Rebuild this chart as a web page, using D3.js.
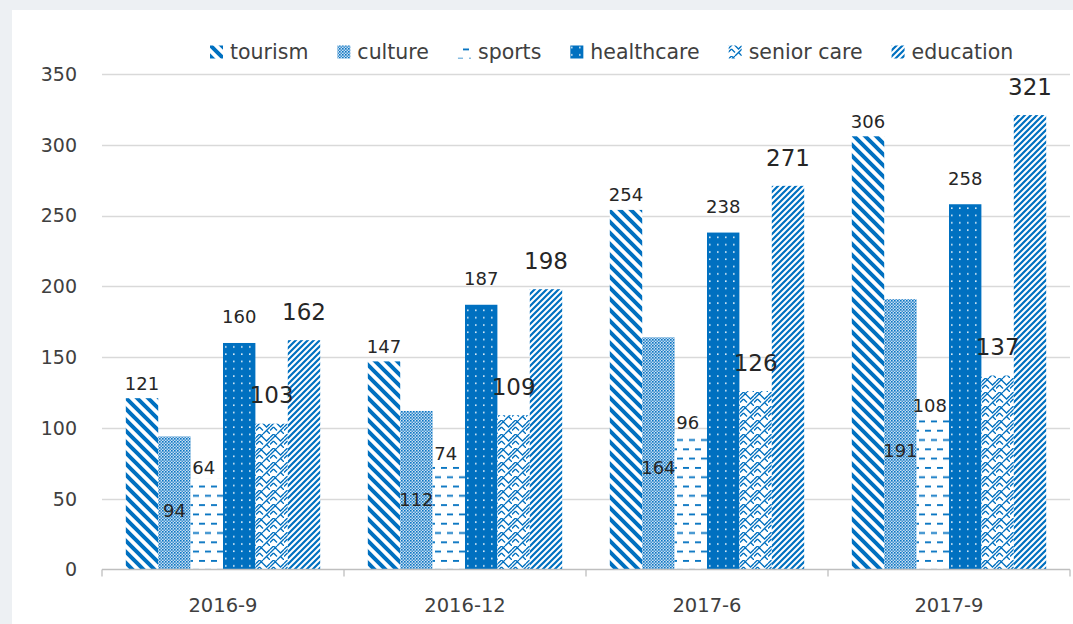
<!DOCTYPE html>
<html>
<head>
<meta charset="utf-8">
<script src="https://cdn.jsdelivr.net/npm/d3@7"></script>
<style>
  html, body { margin: 0; padding: 0; background: #edf0f3; }
  svg { display: block; }
  text { font-family: "DejaVu Sans", sans-serif; }
</style>
</head>
<body>
<svg id="chart" width="1073" height="624"></svg>
<script>
// ---- data ----
const categories = ["2016-9", "2016-12", "2017-6", "2017-9"];
const seriesNames = ["tourism", "culture", "sports", "healthcare", "senior care", "education"];
const tourism    = [121, 147, 254, 306];
const culture    = [94, 112, 164, 191];
const sports     = [64, 74, 96, 108];
const healthcare = [160, 187, 238, 258];
const seniorCare = [103, 109, 126, 137];
const education  = [162, 198, 271, 321];
const yTicks = [0, 50, 100, 150, 200, 250, 300, 350];

const seriesValues = [tourism, culture, sports, healthcare, seniorCare, education];

// ---- styling (not data) ----
const BLUE = "#0070c0";
const labelStyle = [
  { place: "above", gap: 15, size: 18 },
  { place: "inside", frac: 0.44, size: 18 },
  { place: "above", gap: 11, size: 18, dx: -3 },
  { place: "above", gap: 26, size: 18 },
  { place: "above", gap: 28.5, size: 23 },
  { place: "above", gap: 28.5, size: 23 }
];

const svg = d3.select("#chart");
const W = 1073, H = 624;

// white panel
svg.append("rect").attr("x", 12).attr("y", 10).attr("width", W - 12).attr("height", H - 10).attr("fill", "#ffffff");

// ---- patterns ----
const defs = svg.append("defs");
const patIds = ["p-tourism", "p-culture", "p-sports", "p-health", "p-senior", "p-edu"];

// tourism: wide downward diagonal
(function () {
  const s = 11;
  const p = defs.append("pattern").attr("id", patIds[0]).attr("patternUnits", "userSpaceOnUse").attr("width", s).attr("height", s);
  p.append("rect").attr("width", s).attr("height", s).attr("fill", "#fff");
  p.append("path").attr("d", `M${-s},0 L${s},${2*s} M0,${-s} L${2*s},${s} M${-s},${-s} L${2*s},${2*s}`)
    .attr("stroke", BLUE).attr("stroke-width", 4);
})();
// culture: fine 50% checker
(function () {
  const p = defs.append("pattern").attr("id", patIds[1]).attr("patternUnits", "userSpaceOnUse").attr("width", 3).attr("height", 3);
  p.append("rect").attr("width", 3).attr("height", 3).attr("fill", "#c9def2");
  p.append("rect").attr("x", 0).attr("y", 0).attr("width", 1.6).attr("height", 1.6).attr("fill", BLUE).attr("opacity", 0.95);
  p.append("rect").attr("x", 1.5).attr("y", 1.5).attr("width", 1.5).attr("height", 1.5).attr("fill", BLUE).attr("opacity", 0.7);
})();
// sports: dashed horizontal
(function () {
  const w = 12, h = 18.6;
  const p = defs.append("pattern").attr("id", patIds[2]).attr("patternUnits", "userSpaceOnUse").attr("width", w).attr("height", h);
  p.append("rect").attr("width", w).attr("height", h).attr("fill", "#fff");
  p.append("rect").attr("x", 1).attr("y", 2).attr("width", 6).attr("height", 1.8).attr("fill", BLUE);
  p.append("rect").attr("x", 7).attr("y", 11.3).attr("width", 6).attr("height", 1.8).attr("fill", BLUE);
  p.append("rect").attr("x", -5).attr("y", 11.3).attr("width", 6).attr("height", 1.8).attr("fill", BLUE);
})();
// healthcare: solid with white dots
(function () {
  const w = 8, h = 7.3;
  const p = defs.append("pattern").attr("id", patIds[3]).attr("patternUnits", "userSpaceOnUse").attr("width", w).attr("height", h);
  p.append("rect").attr("width", w).attr("height", h).attr("fill", BLUE);
  p.append("rect").attr("x", 3).attr("y", 3).attr("width", 1.6).attr("height", 1.6).attr("fill", "#fff").attr("opacity", 0.85);
})();
// senior care: weave / zigzag
(function () {
  const s = 14;
  const p = defs.append("pattern").attr("id", patIds[4]).attr("patternUnits", "userSpaceOnUse").attr("width", s).attr("height", s);
  p.append("rect").attr("width", s).attr("height", s).attr("fill", "#fff");
  p.append("path")
    .attr("d", "M0,3.5 L3.5,0 L10.5,7 L14,3.5 M0,10.5 L3.5,7 M7,14 L10.5,10.5 L14,14 M3.5,7 L7,10.5 M7,0 L0,7 M14,7 L10.5,10.5")
    .attr("stroke", BLUE).attr("stroke-width", 1.3).attr("fill", "none");
})();
// education: narrow upward diagonal
(function () {
  const s = 6;
  const p = defs.append("pattern").attr("id", patIds[5]).attr("patternUnits", "userSpaceOnUse").attr("width", s).attr("height", s);
  p.append("rect").attr("width", s).attr("height", s).attr("fill", "#fff");
  p.append("path").attr("d", `M${-s},${s} L${s},${-s} M0,${2*s} L${2*s},0 M${-s},${2*s} L${2*s},${-s}`)
    .attr("stroke", BLUE).attr("stroke-width", 2.2);
})();

// ---- scales ----
const y = d3.scaleLinear().domain([0, 350]).range([569.5, 74]);
const x0 = d3.scaleBand().domain(categories).range([102, 1070]).padding(0);
const x1 = d3.scaleBand().domain(seriesNames).range([0, x0.bandwidth()]).paddingInner(0).paddingOuter(0.735);

// gridlines
svg.append("g").selectAll("line").data(yTicks.filter(d => d > 0)).join("line")
  .attr("x1", 102).attr("x2", 1070)
  .attr("y1", d => Math.round(y(d)) + 0.5).attr("y2", d => Math.round(y(d)) + 0.5)
  .attr("stroke", "#d9d9d9").attr("stroke-width", 1.3);

// y labels
svg.append("g").selectAll("text").data(yTicks).join("text")
  .attr("x", 77).attr("y", d => y(d)).attr("dy", "0.36em")
  .attr("text-anchor", "end").attr("font-size", 19).attr("fill", "#404040")
  .text(d => d);

// bars
const groups = svg.append("g").selectAll("g").data(categories).join("g")
  .attr("transform", d => `translate(${x0(d)},0)`);
groups.selectAll("rect").data((c, ci) => seriesNames.map((s, si) => ({ s, si, v: seriesValues[si][ci] }))).join("rect")
  .attr("x", d => x1(d.s))
  .attr("width", x1.bandwidth())
  .attr("y", d => y(d.v))
  .attr("height", d => y(0) - y(d.v))
  .attr("fill", d => `url(#${patIds[d.si]})`);

// x axis
const axisY = 569.5;
svg.append("line").attr("x1", 102).attr("x2", 1070).attr("y1", axisY).attr("y2", axisY)
  .attr("stroke", "#bfbfbf").attr("stroke-width", 1.3);
const bounds = categories.map(c => x0(c)).concat([x0(categories[categories.length - 1]) + x0.bandwidth()]);
svg.append("g").selectAll("line").data(bounds).join("line")
  .attr("x1", d => d).attr("x2", d => d).attr("y1", axisY).attr("y2", axisY + 7)
  .attr("stroke", "#bfbfbf").attr("stroke-width", 1.3);
svg.append("g").selectAll("text").data(categories).join("text")
  .attr("x", d => x0(d) + x0.bandwidth() / 2).attr("y", 605).attr("dy", "0.36em")
  .attr("text-anchor", "middle").attr("font-size", 19.5).attr("fill", "#404040")
  .text(d => d);

// data labels
groups.selectAll("text").data((c, ci) => seriesNames.map((s, si) => ({ s, si, v: seriesValues[si][ci] }))).join("text")
  .attr("x", d => x1(d.s) + x1.bandwidth() / 2 + (labelStyle[d.si].dx || 0))
  .attr("y", d => {
    const st = labelStyle[d.si];
    return st.place === "inside" ? y(d.v * st.frac) : y(d.v) - st.gap;
  })
  .attr("dy", "0.36em")
  .attr("text-anchor", "middle")
  .attr("font-size", d => labelStyle[d.si].size)
  .attr("fill", "#262626")
  .text(d => d.v);

// legend
const legend = svg.append("g");
let lx = 210;
seriesNames.forEach((name, i) => {
  legend.append("rect").attr("x", lx).attr("y", 45.5).attr("width", 13).attr("height", 13)
    .attr("fill", `url(#${patIds[i]})`);
  const t = legend.append("text").attr("x", lx + 20).attr("y", 52).attr("dy", "0.36em")
    .attr("font-size", 20.5).attr("fill", "#404040").text(name);
  lx += 20 + t.node().getComputedTextLength() + 29;
});
</script>
</body>
</html>
